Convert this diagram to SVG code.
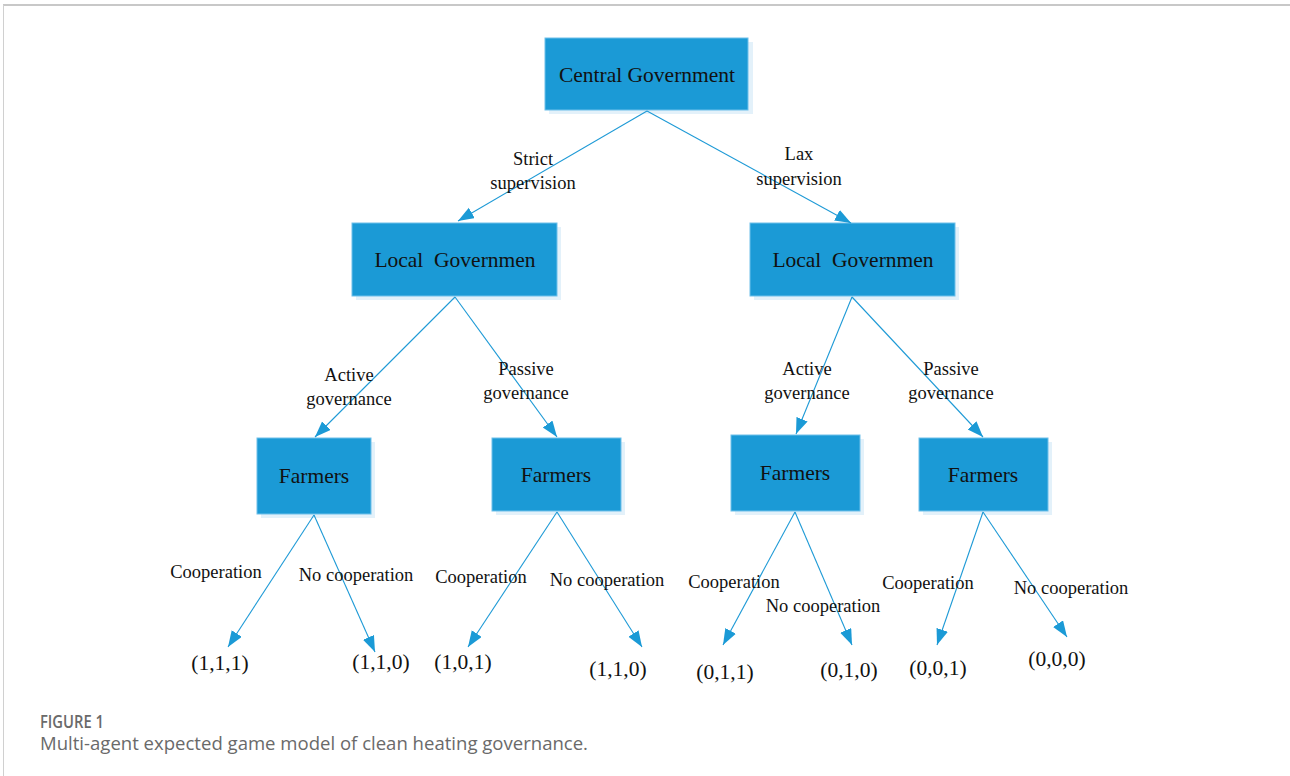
<svg xmlns="http://www.w3.org/2000/svg" width="1290" height="776" viewBox="0 0 1290 776">
<defs>
<style>
.shadow{fill:#e3f1fa}
.box{fill:#1b9ad6;stroke:#6fc0ea;stroke-width:1}
.bl{font-family:"Liberation Serif","Times New Roman",serif;font-size:21.5px;fill:#111;text-anchor:middle}
.el{font-family:"Liberation Serif","Times New Roman",serif;font-size:18.5px;fill:#111;text-anchor:middle}
.pay{font-family:"Liberation Serif","Times New Roman",serif;font-size:21.5px;fill:#111;text-anchor:middle}
.cn{stroke:#1e9ad6;stroke-width:1.1;fill:none;marker-end:url(#ah)}
.cap{font-family:"Open Sans","Lato",sans-serif;fill:#6a6a6a}
</style>
<marker id="ah" markerUnits="userSpaceOnUse" markerWidth="18" markerHeight="14" refX="16" refY="6" orient="auto">
<path d="M0,0 L16,6 L0,12 Z" fill="#1b9ad6"/>
</marker>
</defs>
<rect width="1290" height="776" fill="#fff"/>
<g id="frame">
<line x1="3" y1="5" x2="1290" y2="5" stroke="#c8c8c8" stroke-width="2"/>
<line x1="3.5" y1="5" x2="3.5" y2="776" stroke="#d0d0d0" stroke-width="1"/>
</g>
<g id="central">
<rect class="shadow" x="549" y="42" width="204" height="72"/>
<rect class="box" x="545" y="38" width="203" height="72"/>
<text class="bl" x="647" y="82">Central Government</text>
</g>
<g id="local-left">
<rect class="shadow" x="356" y="227" width="205" height="73"/>
<rect class="box" x="352" y="223" width="205" height="73"/>
<text class="bl" x="455" y="267" xml:space="preserve">Local  Governmen</text>
</g>
<g id="local-right">
<rect class="shadow" x="754" y="227" width="205" height="73"/>
<rect class="box" x="750" y="223" width="205" height="73"/>
<text class="bl" x="853" y="267" xml:space="preserve">Local  Governmen</text>
</g>
<g id="farmers-1">
<rect class="shadow" x="261" y="442" width="114" height="76"/>
<rect class="box" x="257" y="438" width="114" height="76"/>
<text class="bl" x="314" y="483">Farmers</text>
</g>
<g id="farmers-2">
<rect class="shadow" x="496" y="442" width="129" height="73"/>
<rect class="box" x="492" y="438" width="129" height="73"/>
<text class="bl" x="556" y="482">Farmers</text>
</g>
<g id="farmers-3">
<rect class="shadow" x="735" y="439" width="129" height="76"/>
<rect class="box" x="731" y="435" width="129" height="76"/>
<text class="bl" x="795" y="480">Farmers</text>
</g>
<g id="farmers-4">
<rect class="shadow" x="923" y="442" width="129" height="73"/>
<rect class="box" x="919" y="438" width="129" height="73"/>
<text class="bl" x="983" y="482">Farmers</text>
</g>
<g id="connectors">
<line class="cn" x1="647" y1="111" x2="458" y2="221"/>
<line class="cn" x1="647" y1="111" x2="851" y2="223"/>
<line class="cn" x1="455" y1="297" x2="315" y2="437"/>
<line class="cn" x1="455" y1="297" x2="557" y2="437"/>
<line class="cn" x1="852" y1="297" x2="796" y2="434"/>
<line class="cn" x1="852" y1="297" x2="983" y2="437"/>
<line class="cn" x1="314" y1="515" x2="228" y2="647"/>
<line class="cn" x1="314" y1="515" x2="375" y2="652"/>
<line class="cn" x1="557" y1="512" x2="468" y2="647"/>
<line class="cn" x1="557" y1="512" x2="642" y2="647"/>
<line class="cn" x1="795" y1="512" x2="723" y2="645"/>
<line class="cn" x1="795" y1="512" x2="852" y2="645"/>
<line class="cn" x1="983" y1="512" x2="937" y2="645"/>
<line class="cn" x1="983" y1="512" x2="1067" y2="637"/>
</g>
<g id="edge-labels">
<text class="el" x="533" y="165">Strict</text>
<text class="el" x="533" y="189">supervision</text>
<text class="el" x="799" y="160">Lax</text>
<text class="el" x="799" y="185">supervision</text>
<text class="el" x="349" y="381">Active</text>
<text class="el" x="349" y="405">governance</text>
<text class="el" x="526" y="375">Passive</text>
<text class="el" x="526" y="399">governance</text>
<text class="el" x="807" y="375">Active</text>
<text class="el" x="807" y="399">governance</text>
<text class="el" x="951" y="375">Passive</text>
<text class="el" x="951" y="399">governance</text>
<text class="el" x="216" y="578">Cooperation</text>
<text class="el" x="356" y="581">No cooperation</text>
<text class="el" x="481" y="583">Cooperation</text>
<text class="el" x="607" y="586">No cooperation</text>
<text class="el" x="734" y="588">Cooperation</text>
<text class="el" x="823" y="612">No cooperation</text>
<text class="el" x="928" y="589">Cooperation</text>
<text class="el" x="1071" y="594">No cooperation</text>
</g>
<g id="payoffs">
<text class="pay" x="220" y="670">(1,1,1)</text>
<text class="pay" x="381" y="669">(1,1,0)</text>
<text class="pay" x="463" y="669">(1,0,1)</text>
<text class="pay" x="618" y="676">(1,1,0)</text>
<text class="pay" x="725" y="679">(0,1,1)</text>
<text class="pay" x="849" y="677">(0,1,0)</text>
<text class="pay" x="938" y="675">(0,0,1)</text>
<text class="pay" x="1057" y="666">(0,0,0)</text>
</g>
<g id="caption">
<text class="cap" x="40" y="728" font-size="18" font-weight="600" fill="#5c5c5c" textLength="64" lengthAdjust="spacingAndGlyphs">FIGURE 1</text>
<text class="cap" x="40" y="750" font-size="18" textLength="548" lengthAdjust="spacingAndGlyphs">Multi-agent expected game model of clean heating governance.</text>
</g>
</svg>
